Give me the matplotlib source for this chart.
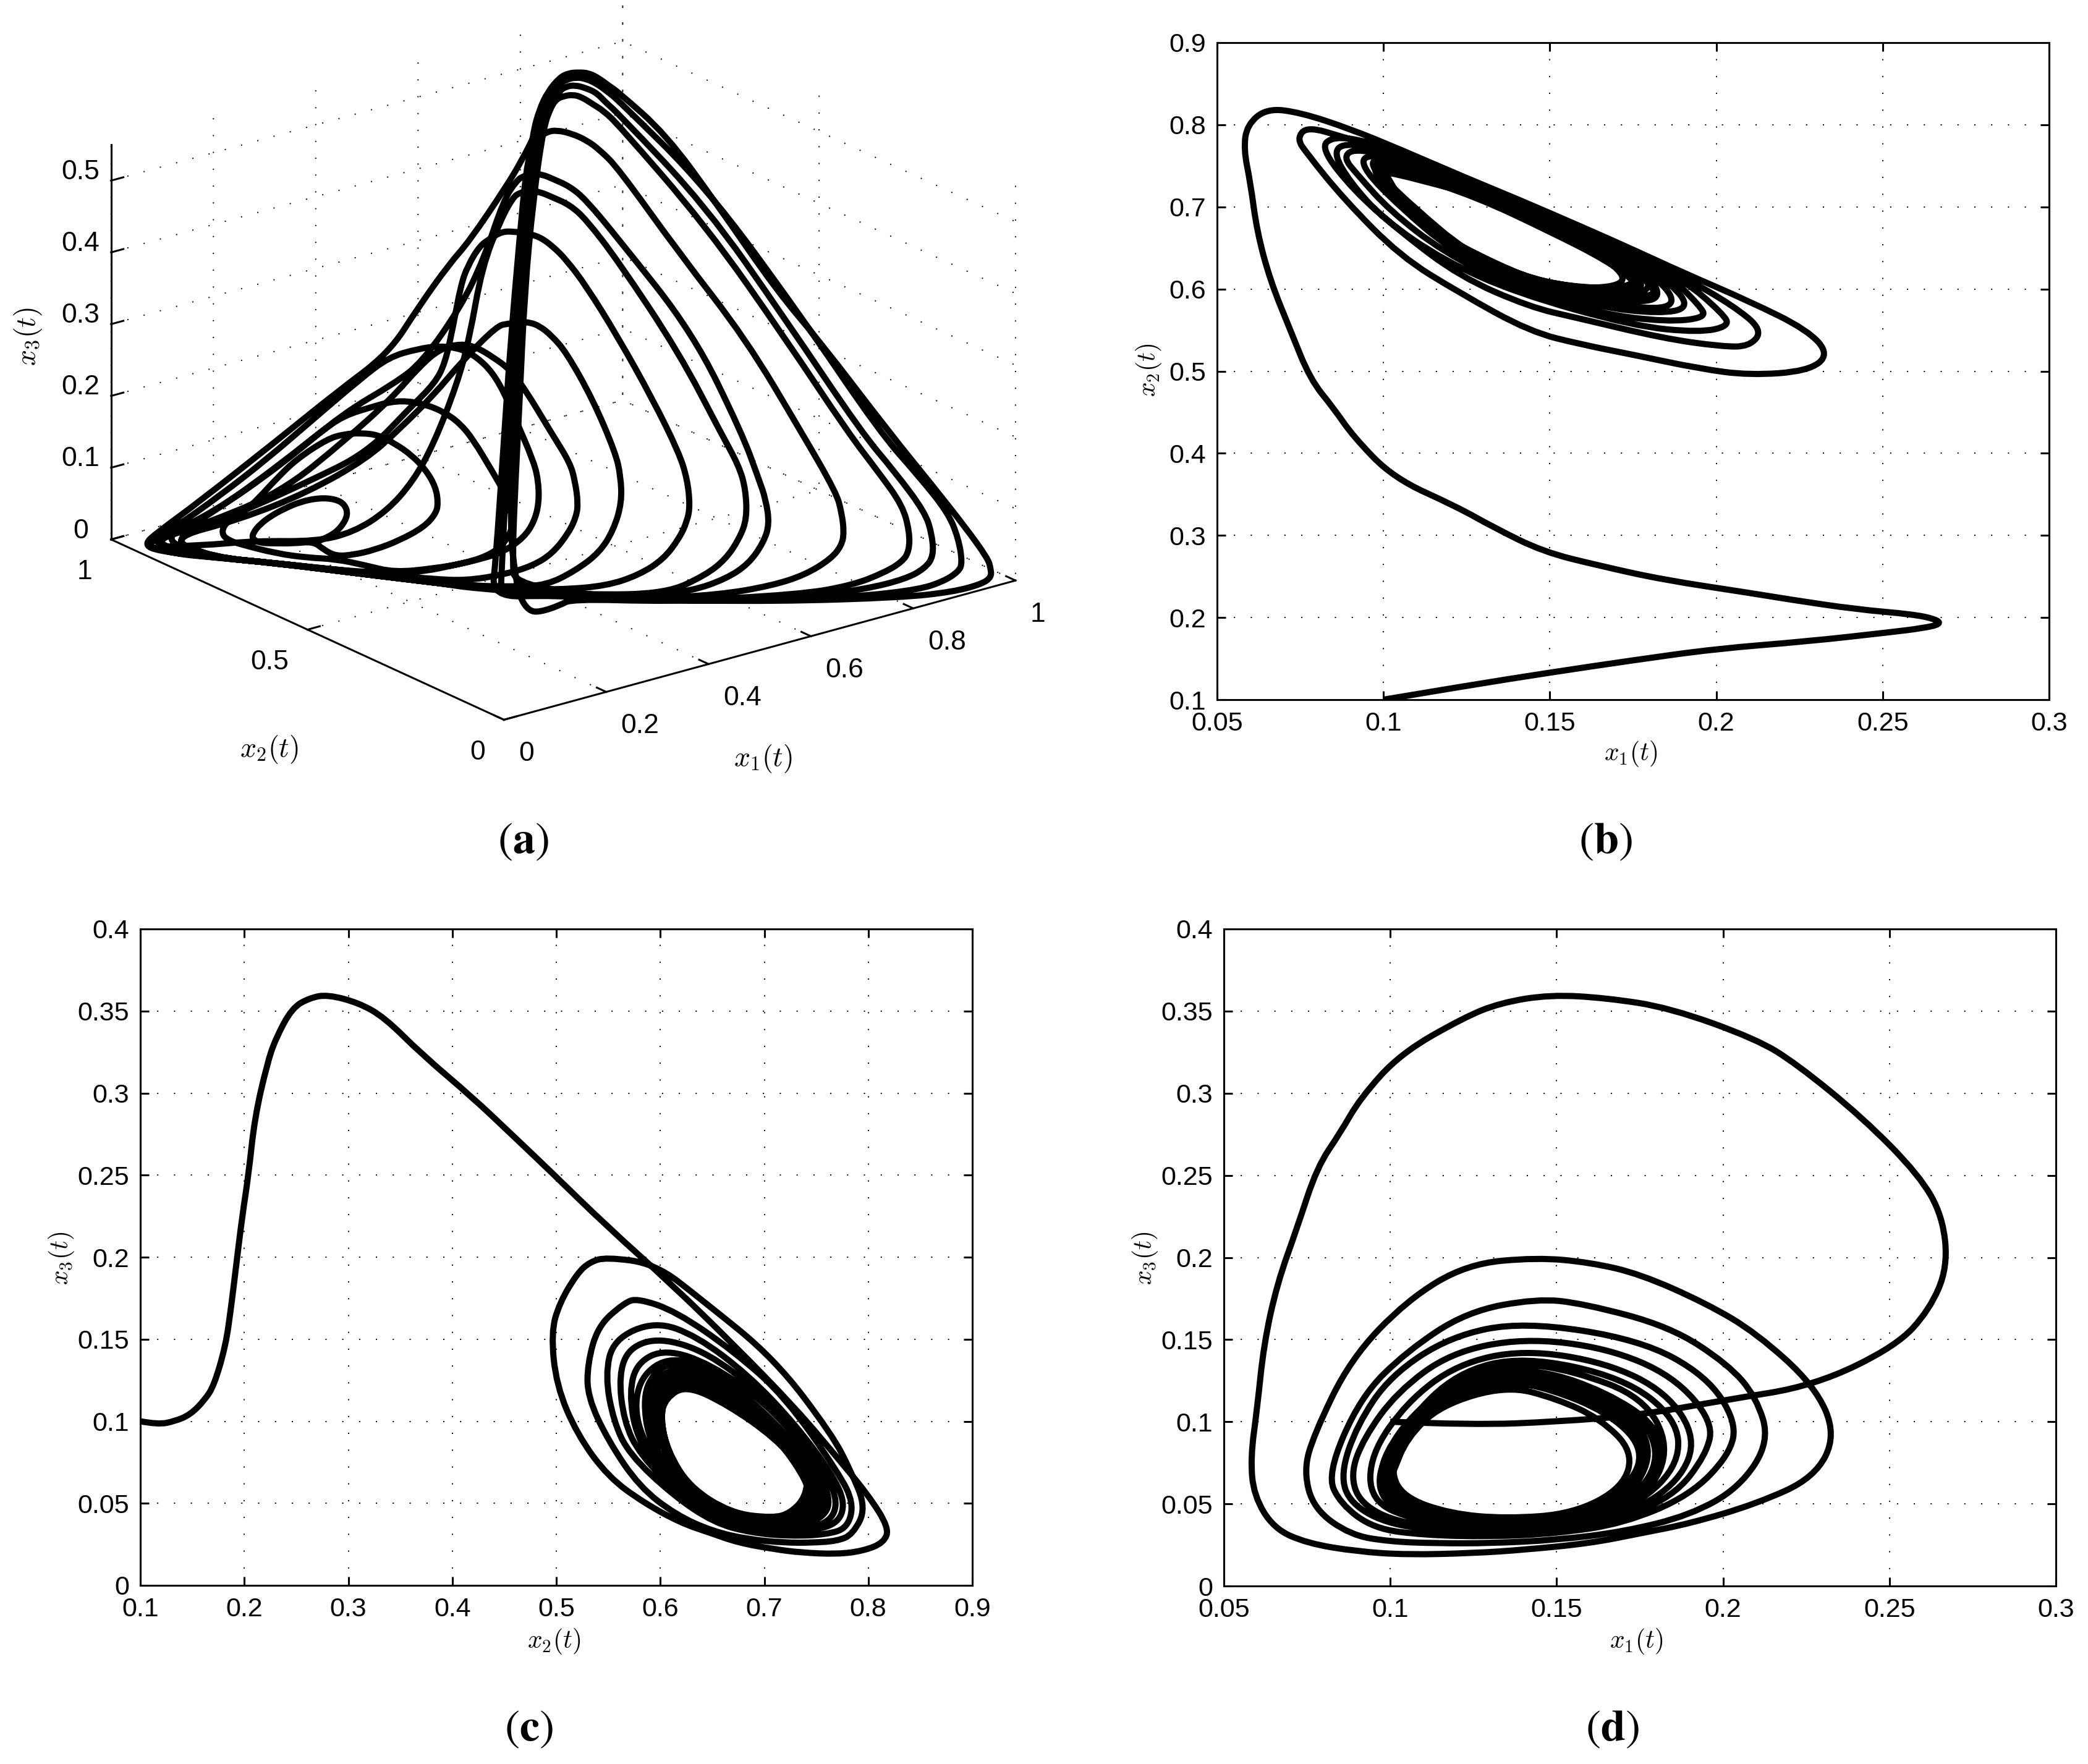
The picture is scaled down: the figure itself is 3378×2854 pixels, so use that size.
import numpy as np
import matplotlib
matplotlib.use("Agg")
import matplotlib.pyplot as plt
from matplotlib.patches import PathPatch
from matplotlib.path import Path
from mpl_toolkits.mplot3d import proj3d

plt.rcParams["font.family"] = ["Liberation Sans", "DejaVu Sans"]
plt.rcParams["mathtext.fontset"] = "cm"

W, H = 3378, 2854
K = 2.154  # the label positions below were read on a picture 1568 wide

# panel (a), values in thousandths
a_x1 = [
    196,220,239,255,259,253,235,210,187,166,148,135,129,135,150,173,197,203,212,233,261,296,333,356,366,375,376,370,359,346,329,308,285,236,199,168,141,116,104,98,102,111,146,178,210,239,
    267,315,356,392,417,434,443,449,450,451,447,438,423,403,382,363,321,282,241,168,115,79,44,21,2,29,72,139,199,266,304,339,377,408,439,462,481,497,505,513,519,521,514,502,479,453,414,365,284,202,124,47,6,72,139,199,265,306,343,389,429,461,494,514,
    525,537,545,545,546,542,532,521,506,478,443,386,307,194,79,6,72,139,242,339,392,430,474,515,547,575,593,604,616,619,614,607,599,589,574,559,492,439,375,316,225,129,32,72,139,241,367,443,499,544,583,615,636,651,667,676,684,689,689,685,679,671,658,646,632,614,596,568,547,509,473,447,403,321,233,134,32,
    72,139,241,367,469,561,620,654,683,706,726,735,738,747,743,736,728,714,703,692,679,669,639,585,518,473,404,353,302,249,200,132,62,17,72,139,241,367,528,593,640,676,708,728,742,748,762,777,759,750,741,727,718,708,697,686,656,592,532,448,401,323,213,104,21,
    72,139,241,367,527,621,688,733,773,795,807,819,827,830,833,818,809,801,793,781,766,754,742,723,706,646,560,476,392,360,430,555,712,779,826,853,868,882,893,889,883,878,868,840,833,826,818,810,798,786,764,744,674,589,506,427,397,392,393,404,431,450,
    555,709,791,844,874,892,906,914,908,898,892,882,848,842,838,830,819,808,797,777,754,690,614,533,451,411,394,526,708,786,852,885,909,920,933,940,932,919,912,896,857,850,845,836,825,813,798,774,740,706,669,588,549,484,417,328,230,92,26,2,
    13,72,139,199,265,324,367,430,538,681,826,888,927,943,949,952,949,941,930,915,902,896,887,863,857,851,843,832,820,807,783,761,737,679,605,522,440,379,
]
a_x2 = [
    740,728,725,729,742,757,775,792,803,810,814,814,809,797,783,761,741,723,704,687,669,651,637,637,644,662,688,717,746,771,791,809,822,836,839,840,842,850,851,844,832,817,770,734,701,664,627,588,559,539,537,543,558,582,614,666,695,721,748,773,790,802,826,835,843,859,872,883,899,909,919,879,833,761,694,625,594,571,546,529,521,525,537,560,584,636,670,707,738,763,788,808,
    832,842,855,867,883,902,917,833,761,694,624,580,543,508,486,476,478,485,495,518,541,589,658,693,721,747,768,785,791,791,801,822,876,917,833,761,648,538,487,453,
    436,427,433,449,475,503,576,647,679,700,714,724,735,746,750,749,754,761,793,840,899,833,761,647,506,435,389,364,353,355,362,374,402,435,512,607,688,734,760,783,
    801,815,827,834,838,832,822,792,766,759,762,767,802,846,899,833,761,647,506,402,318,293,287,291,301,330,359,409,527,677,749,780,806,825,837,845,848,840,817,763,
    735,704,691,692,708,739,803,861,903,833,761,647,506,343,293,268,258,262,272,300,325,387,531,698,768,797,823,838,848,855,860,855,822,802,792,802,828,847,875,909,
    833,761,647,506,342,261,213,187,175,176,185,207,231,323,469,619,763,800,823,845,863,872,875,871,862,802,713,622,531,500,439,311,176,128,105,96,99,116,148,204,
    274,426,616,804,832,849,867,879,888,893,888,879,818,728,636,541,484,468,448,436,420,414,311,172,110,77,66,68,90,118,187,259,445,634,814,836,855,871,885,894,
    897,891,881,824,747,654,561,513,487,341,171,104,53,35,27,31,58,94,158,240,437,653,826,847,863,880,892,900,905,897,883,873,865,854,854,847,836,855,873,900,
    916,919,898,833,761,694,624,552,506,439,329,194,64,15,-8,-13,-3,8,62,135,230,387,482,625,743,833,850,866,882,894,903,909,908,901,886,834,755,664,571,501,
]
a_x3 = [
    22,30,40,53,63,68,69,64,56,48,39,30,24,20,20,21,24,16,10,12,18,29,44,58,69,85,102,117,128,136,137,135,129,107,86,67,52,42,34,26,
    21,18,10,7,7,2,-4,2,9,20,34,48,63,82,103,136,152,162,169,172,170,165,154,136,115,79,55,39,27,19,13,5,3,0,-4,-5,-1,6,14,23,
    38,54,74,98,118,156,181,205,220,228,230,226,216,192,149,106,67,31,15,3,0,-4,-7,-9,-9,-1,9,23,45,62,76,97,116,146,190,210,221,230,233,227,
    208,173,130,72,35,15,3,0,-6,-14,-13,-10,6,26,50,78,105,129,182,229,246,255,258,258,256,253,214,180,143,111,74,43,20,3,0,-8,-17,-14,-8,5,
    22,44,62,78,105,132,185,247,298,324,337,346,349,350,350,342,334,313,293,251,212,191,166,117,85,50,20,3,0,-8,-17,-18,-13,8,25,46,67,97,121,154,
    234,325,366,380,387,392,393,390,385,362,313,238,192,130,90,58,35,24,22,14,12,3,0,-8,-17,-18,-9,5,21,43,63,88,108,155,255,348,386,399,406,410,
    410,408,403,382,321,271,212,189,157,100,49,19,3,0,-8,-17,-20,-12,0,13,30,44,58,78,98,158,251,336,420,438,447,453,456,454,448,434,417,342,233,124,
    15,-25,-20,-21,-8,4,19,31,42,61,88,121,160,253,365,465,478,484,491,493,491,487,470,452,370,261,151,42,-12,-25,-37,-38,-30,-23,-21,-12,1,13,25,38,
    59,82,122,161,273,385,476,486,496,500,503,501,496,480,459,384,288,179,70,15,-12,-21,-13,-6,3,12,23,32,57,83,119,162,280,405,490,499,505,510,511,508,
    502,482,452,424,396,338,314,269,220,177,127,58,26,13,7,3,0,-4,-7,-15,-17,-20,-20,-16,-6,2,11,19,28,38,69,110,162,252,303,388,457,498,504,511,
    516,516,515,510,495,476,452,383,288,178,69,-12,
]

# common trajectory of panels b, c, d
x1 = [
    .100, .125, .150, .175, .200, .2275, .252, .262, .2675, .266, .259, .242, .222, .210, .184, .165, .148, .133, .122, .103, .091, .085, .078, .072, .066, .062, .060, .058, .059,
    .065, .075, .090, .105, .125, .140, .160, .175, .190, .210, .2275, .234, .2275, .210, .195, .175, .160, .144, .123, .105, .088, .077, .074,
    .077, .088, .100, .114, .130, .150, .170, .190, .205, .214, .210, .2015, .184, .158, .144, .123, .105, .091, .081,
    .085, .095, .110, .130, .150, .170, .190, .202, .204, .195, .175, .140, .118, .100, .090, .085,
    .088, .100, .120, .140, .165, .185, .195, .197, .185, .165, .140, .118, .102, .092, .088,
    .091, .103, .125, .150, .172, .187, .192, .183, .165, .140, .120, .105, .094,
    .094, .107, .130, .155, .175, .187, .186, .170, .140, .120, .105, .096,
    .098, .110, .135, .160, .178, .184, .176, .155, .138, .118, .104,
    .097, .105, .125, .150, .170, .182, .180, .165, .145, .125, .108, .098,
    .097, .102, .118, .140, .162, .177, .181, .172, .155, .137, .116, .103,
    .098, .106, .128, .150, .170, .179, .174, .160, .143, .125, .109, .100,
    .098, .103, .118, .140, .160, .174, .178, .168, .150, .136, .115, .104,
    .099, .107, .128, .150, .167, .177, .172, .157, .142, .123, .108, .100,
    .099, .104, .118, .140, .158, .173, .176, .165, .148, .135, .114, .104,
    .100, .104, .118, .135, .155, .170, .173, .163, .150, .135, .115, .105, .101,
]
x2 = [
    .100, .117, .133, .148, .162, .171, .182, .187, .192, .198, .204, .210, .222, .230, .246, .263, .280, .310, .335, .370, .420, .455, .490, .550, .610, .670, .730, .770, .800,
    .820, .815, .795, .770, .735, .710, .675, .648, .620, .585, .550, .520, .500, .495, .503, .520, .532, .548, .595, .640, .710, .765, .783,
    .798, .785, .770, .745, .720, .685, .650, .615, .580, .550, .530, .530, .540, .565, .578, .615, .670, .720, .772,
    .786, .780, .760, .725, .688, .652, .612, .570, .555, .547, .555, .595, .635, .685, .730, .765,
    .778, .770, .740, .705, .660, .620, .580, .565, .560, .570, .600, .645, .695, .740, .760,
    .771, .762, .733, .684, .645, .605, .577, .570, .578, .605, .648, .700, .745,
    .765, .755, .722, .675, .635, .595, .575, .580, .610, .655, .710, .750,
    .760, .748, .712, .665, .625, .590, .583, .595, .615, .660, .715,
    .757, .750, .725, .680, .640, .600, .590, .590, .605, .640, .695, .735,
    .755, .752, .735, .705, .660, .625, .600, .590, .600, .620, .665, .715,
    .750, .745, .715, .675, .640, .605, .595, .597, .610, .645, .700, .735,
    .750, .748, .732, .702, .660, .625, .603, .597, .605, .625, .668, .710,
    .745, .740, .712, .670, .635, .605, .600, .602, .615, .650, .700, .735,
    .747, .745, .730, .700, .660, .622, .605, .600, .608, .628, .672, .712,
    .742, .740, .725, .708, .668, .628, .607, .600, .605, .625, .665, .710, .738,
]
x3 = [
    .100, .098, .100, .104, .113, .122, .146, .168, .194, .225, .250, .285, .318, .333, .352, .358, .360, .355, .346, .324, .297, .276, .255, .218, .184, .147, .108, .078, .055,
    .035, .026, .021, .019, .020, .022, .026, .032, .038, .050, .066, .092, .122, .154, .172, .190, .197, .200, .196, .174, .138, .092, .070,
    .047, .031, .027, .026, .026, .028, .033, .043, .060, .088, .115, .135, .158, .172, .175, .167, .143, .115, .068,
    .050, .035, .031, .030, .032, .038, .055, .080, .100, .128, .150, .161, .152, .128, .098, .068,
    .050, .037, .033, .032, .038, .054, .080, .100, .128, .145, .151, .142, .118, .090, .068,
    .050, .038, .034, .035, .044, .064, .090, .118, .136, .144, .135, .112, .080,
    .052, .040, .035, .037, .050, .075, .102, .127, .140, .130, .100, .070,
    .050, .040, .036, .040, .056, .085, .115, .131, .136, .126, .095,
    .058, .044, .037, .037, .047, .075, .098, .118, .132, .130, .108, .080,
    .062, .048, .040, .037, .043, .060, .085, .110, .125, .132, .120, .090,
    .058, .045, .038, .039, .050, .078, .102, .118, .129, .126, .103, .080,
    .066, .050, .042, .039, .045, .062, .085, .108, .122, .128, .115, .092,
    .060, .047, .040, .040, .052, .075, .100, .114, .124, .121, .100, .080,
    .068, .052, .043, .040, .046, .063, .085, .106, .120, .125, .112, .090,
    .070, .054, .044, .041, .044, .060, .082, .102, .114, .122, .110, .090, .070,
]

x1_ticks = [0.05, 0.1, 0.15, 0.2, 0.25, 0.3]
x1_ticklabels = ["0.05", "0.1", "0.15", "0.2", "0.25", "0.3"]
x2_ticks = [0.1, 0.2, 0.3, 0.4, 0.5, 0.6, 0.7, 0.8, 0.9]
x2_ticklabels = ["0.1", "0.2", "0.3", "0.4", "0.5", "0.6", "0.7", "0.8", "0.9"]
x3_ticks = [0, 0.05, 0.1, 0.15, 0.2, 0.25, 0.3, 0.35, 0.4]
x3_ticklabels = ["0", "0.05", "0.1", "0.15", "0.2", "0.25", "0.3", "0.35", "0.4"]


def curve_patch(xs, ys, **kw):
    # read points act as quadratic control points, so loops stay round
    p = np.column_stack([xs, ys])
    verts = [p[0]]
    for i in range(1, len(p) - 1):
        verts.append(p[i])
        verts.append((p[i] + p[i + 1]) / 2)
    verts.append(p[-1])
    codes = [Path.MOVETO] + [Path.CURVE3] * (2 * (len(p) - 2)) + [Path.LINETO]
    return PathPatch(Path(verts, codes), fill=False, ec="k", lw=7.2, capstyle="butt", joinstyle="round", **kw)


fig = plt.figure(figsize=(W / 100, H / 100), dpi=100)

S = 1578
ax = fig.add_axes([101 / W, 1 - (-181 + S) / H, S / W, S / H], projection="3d", proj_type="ortho")
ax.patch.set_alpha(0)
ax.view_init(elev=20.7, azim=-127.6)
ax.set_box_aspect((1045, 1042, 683))
ax.set_xlim(0, 1, view_margin=0)
ax.set_ylim(0, 1, view_margin=0)
ax.set_zlim(0, 0.55, view_margin=0)
ax.set_xticks([0, 0.2, 0.4, 0.6, 0.8, 1], ["0", "0.2", "0.4", "0.6", "0.8", "1"])
ax.set_yticks([0, 0.5, 1], ["0", "0.5", "1"])
ax.set_zticks([0, 0.1, 0.2, 0.3, 0.4, 0.5], ["0", "0.1", "0.2", "0.3", "0.4", "0.5"])
for axis in (ax.xaxis, ax.yaxis, ax.zaxis):
    axis.set_pane_color((1, 1, 1, 0))
    axis.pane.set_edgecolor("none")
    axis.line.set_color("k")
    axis.line.set_linewidth(2.2)
    axis._axinfo["grid"].update(color="k", linestyle=(0, (1, 13)), linewidth=1.4)
    axis._axinfo["tick"].update(inward_factor=0, outward_factor=0.3, linewidth={True: 2.2, False: 2.2})
ax.tick_params(labelsize=32, pad=14)
ax.tick_params(axis="z", pad=12)
for lbl in ax.get_xticklabels():
    lbl.set_ha("left")
for lbl in ax.get_yticklabels():
    lbl.set_ha("right")
for lbl in ax.get_zticklabels():
    lbl.set_va("baseline")
# the trajectory goes through the axes' own projection, then onto the figure
px, py, _ = proj3d.proj_transform(np.array(a_x1) / 1000, np.array(a_x2) / 1000, np.array(a_x3) / 1000, ax.get_proj())
fig.add_artist(curve_patch(px, py, transform=ax.transData))


def panel(box, xs, ys, xticks, xlabels, yticks, ylabels, xname, yname, xpos, ypos, letter, lpos):
    left, right, top, bottom = box
    a = fig.add_axes([left / W, 1 - bottom / H, (right - left) / W, (bottom - top) / H])
    a.add_patch(curve_patch(xs, ys))
    a.set_xlim(xticks[0], xticks[-1])
    a.set_ylim(yticks[0], yticks[-1])
    a.set_xticks(xticks, xlabels)
    a.set_yticks(yticks, ylabels)
    a.tick_params(direction="in", length=10, width=2.2, top=True, right=True, labelsize=31)
    a.tick_params(axis="x", pad=14)
    a.tick_params(axis="y", pad=13)
    a.grid(True, color="k", linestyle=(0, (1, 13)), linewidth=1.4)
    for sp in a.spines.values():
        sp.set_linewidth(2.2)
    fig.text(xpos[0] * K / W, 1 - xpos[1] * K / H, xname, fontsize=30, ha="center", va="center")
    fig.text(ypos[0] * K / W, 1 - ypos[1] * K / H, yname, fontsize=30, ha="center", va="center", rotation=90)
    fig.text(lpos[0] * K / W, 1 - lpos[1] * K / H, letter, fontsize=52, ha="center", va="center", math_fontfamily="stix")


panel((1969, 3315, 69, 1132), x1, x2, x1_ticks, x1_ticklabels,
      [0.1, 0.2, 0.3, 0.4, 0.5, 0.6, 0.7, 0.8, 0.9], x2_ticklabels,
      "$x_1(t)$", "$x_2(t)$", (1225, 566), (863, 278), r"$(\mathbf{b})$", (1206, 632))
panel((227, 1573, 1503, 2565), x2, x3, x2_ticks, x2_ticklabels, x3_ticks, x3_ticklabels,
      "$x_2(t)$", "$x_3(t)$", (416, 1233), (46, 945), r"$(\mathbf{c})$", (397, 1299))
panel((1980, 3326, 1503, 2566), x1, x3, x1_ticks, x1_ticklabels, x3_ticks, x3_ticklabels,
      "$x_1(t)$", "$x_3(t)$", (1229, 1233), (860, 945), r"$(\mathbf{d})$", (1211, 1299))

fig.text(202 * K / W, 1 - 563 * K / H, "$x_2(t)$", fontsize=33, ha="center", va="center")
fig.text(573 * K / W, 1 - 570 * K / H, "$x_1(t)$", fontsize=33, ha="center", va="center")
fig.text(21 * K / W, 1 - 253 * K / H, "$x_3(t)$", fontsize=33, ha="center", va="center", rotation=90)
fig.text(393 * K / W, 1 - 632 * K / H, r"$(\mathbf{a})$", fontsize=52, ha="center", va="center", math_fontfamily="stix")

fig.savefig("out.png", dpi=100)
